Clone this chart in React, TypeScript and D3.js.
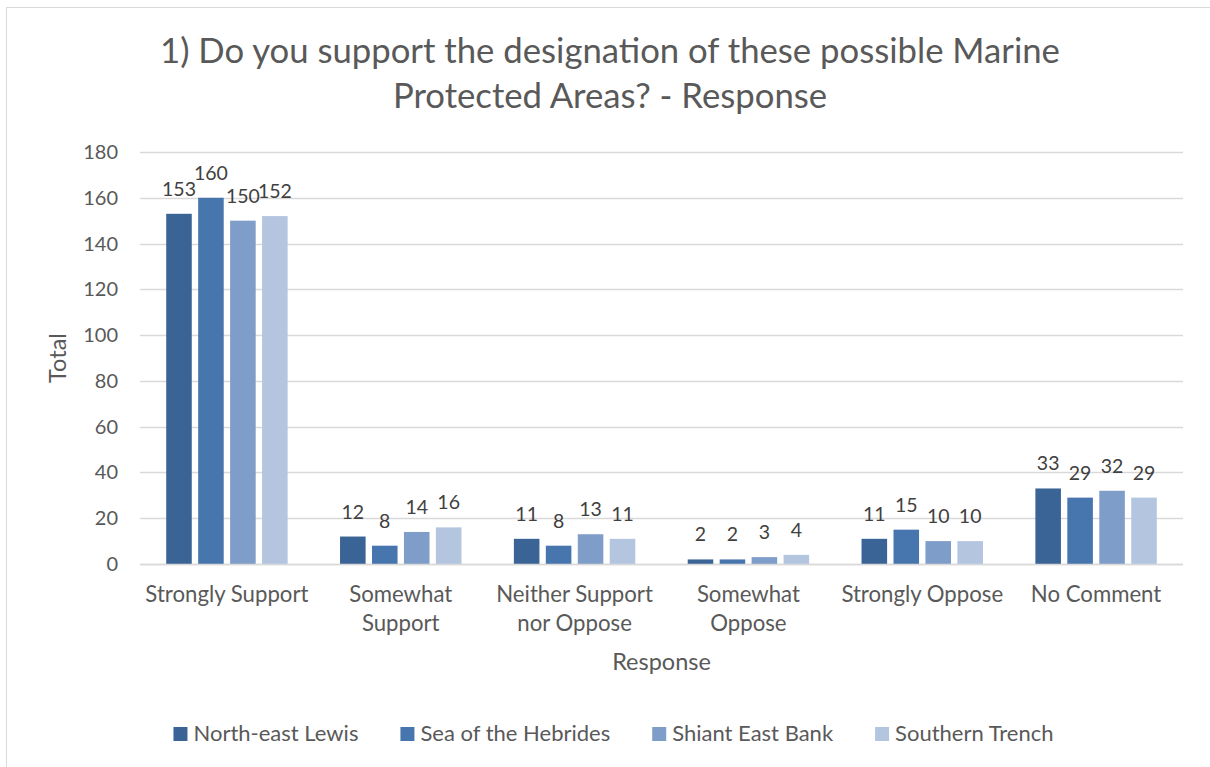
import React, { useEffect, useRef } from "react";
import * as d3 from "d3";

const categories = [
  "Strongly Support",
  "Somewhat Support",
  "Neither Support nor Oppose",
  "Somewhat Oppose",
  "Strongly Oppose",
  "No Comment",
];
const categoryLines = [
  ["Strongly Support"],
  ["Somewhat", "Support"],
  ["Neither Support", "nor Oppose"],
  ["Somewhat", "Oppose"],
  ["Strongly Oppose"],
  ["No Comment"],
];
const seriesNames = ["North-east Lewis", "Sea of the Hebrides", "Shiant East Bank", "Southern Trench"];
const northEastLewis = [153, 12, 11, 2, 11, 33];
const seaOfTheHebrides = [160, 8, 8, 2, 15, 29];
const shiantEastBank = [150, 14, 13, 3, 10, 32];
const southernTrench = [152, 16, 11, 4, 10, 29];
const seriesColors = ["#3B6496", "#4775AE", "#7F9DC9", "#B4C5E0"];
const yTicks = [0, 20, 40, 60, 80, 100, 120, 140, 160, 180];
const titleLines = ["1) Do you support the designation of these possible Marine", "Protected Areas? - Response"];

const FONT = "Lato, 'Open Sans', sans-serif";
const TEXT = "#595959";

export default function App() {
  const ref = useRef<SVGSVGElement>(null);

  useEffect(() => {
    const svg = d3.select(ref.current);
    svg.selectAll("*").remove();
    const W = 1210, H = 767;
    const left = 140, right = 1183, top = 152, bottom = 564;

    svg.append("rect").attr("x", 6.5).attr("y", 7.5).attr("width", W).attr("height", H)
      .attr("fill", "#fff").attr("stroke", "#d9d9d9").attr("stroke-width", 1);

    const allSeries = [northEastLewis, seaOfTheHebrides, shiantEastBank, southernTrench];

    const x = d3.scaleBand<string>().domain(categories).range([left, right]).paddingInner(0).paddingOuter(0);
    const xs = d3.scaleBand<string>().domain(seriesNames).range([0, x.bandwidth()]).paddingInner(0.2).paddingOuter(0.82);
    const y = d3.scaleLinear().domain([0, 180]).range([bottom, top]);

    // gridlines
    svg.append("g").selectAll("line").data(yTicks).join("line")
      .attr("x1", left).attr("x2", right)
      .attr("y1", (d) => Math.round(y(d)) + 0.5).attr("y2", (d) => Math.round(y(d)) + 0.5)
      .attr("stroke", "#d9d9d9").attr("stroke-width", 1.3);

    // y tick labels
    svg.append("g").selectAll("text").data(yTicks).join("text")
      .attr("x", 118).attr("y", (d) => y(d)).attr("dy", "0.35em")
      .attr("text-anchor", "end").attr("font-family", FONT).attr("font-size", 20).attr("fill", TEXT)
      .text((d) => d);

    // bars
    allSeries.forEach((vals, si) => {
      const g = svg.append("g");
      g.selectAll("rect").data(vals).join("rect")
        .attr("x", (_, i) => (x(categories[i]) as number) + (xs(seriesNames[si]) as number))
        .attr("y", (d) => y(d))
        .attr("width", xs.bandwidth())
        .attr("height", (d) => bottom - y(d))
        .attr("fill", seriesColors[si]);
      g.selectAll("text").data(vals).join("text")
        .attr("x", (_, i) => (x(categories[i]) as number) + (xs(seriesNames[si]) as number) + xs.bandwidth() / 2)
        .attr("y", (d) => y(d) - 18)
        .attr("text-anchor", "middle").attr("font-family", FONT).attr("font-size", 19.5).attr("fill", "#404040")
        .text((d) => d);
    });

    // axis line
    svg.append("line").attr("x1", left).attr("x2", right).attr("y1", bottom + 0.5).attr("y2", bottom + 0.5)
      .attr("stroke", "#d9d9d9").attr("stroke-width", 1.5);

    // category labels
    categories.forEach((c, i) => {
      const t = svg.append("text").attr("text-anchor", "middle").attr("font-family", FONT)
        .attr("font-size", 22.2).attr("fill", TEXT);
      categoryLines[i].forEach((ln, li) => {
        t.append("tspan").attr("x", (x(c) as number) + x.bandwidth() / 2).attr("y", 602 + li * 29).text(ln);
      });
    });

    // axis titles
    svg.append("text").attr("x", (left + right) / 2).attr("y", 670).attr("text-anchor", "middle")
      .attr("font-family", FONT).attr("font-size", 23.5).attr("fill", TEXT).text("Response");
    svg.append("text").attr("transform", `translate(66, ${(top + bottom) / 2}) rotate(-90)`).attr("text-anchor", "middle")
      .attr("font-family", FONT).attr("font-size", 23.5).attr("fill", TEXT).text("Total");

    // title
    titleLines.forEach((ln, i) => {
      svg.append("text").attr("x", 610).attr("y", 63 + i * 45).attr("text-anchor", "middle")
        .attr("font-family", FONT).attr("font-size", 34.7).attr("fill", TEXT).text(ln);
    });

    // legend
    const lg = svg.append("g");
    const items = seriesNames.map((n, i) => {
      const gi = lg.append("g");
      gi.append("rect").attr("x", 0).attr("y", 727).attr("width", 14).attr("height", 14).attr("fill", seriesColors[i]);
      const t = gi.append("text").attr("x", 20).attr("y", 741).attr("font-family", FONT).attr("font-size", 22)
        .attr("fill", TEXT).text(n);
      const w = (t.node() as SVGTextElement).getComputedTextLength();
      return { gi, w: 20 + w };
    });
    const gap = 42;
    const total = d3.sum(items, (d) => d.w) + gap * (items.length - 1);
    let cx = 613.5 - total / 2;
    items.forEach((it) => {
      it.gi.attr("transform", `translate(${cx},0)`);
      cx += it.w + gap;
    });
  }, []);

  return (
    <svg ref={ref} width={1210} height={767} style={{ position: "absolute", left: 0, top: 0, background: "#fff" }} />
  );
}
